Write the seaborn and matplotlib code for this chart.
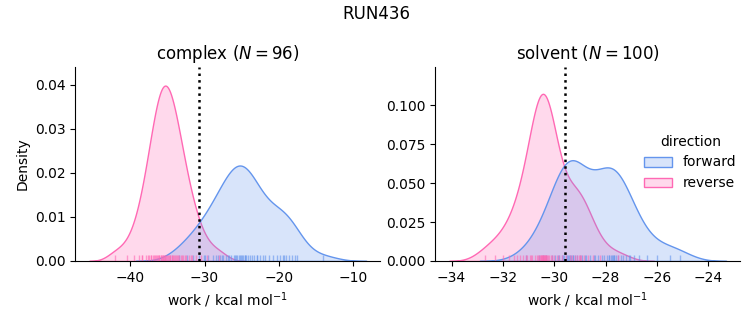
import numpy as np
import pandas as pd
import matplotlib
matplotlib.use("Agg")
import matplotlib.pyplot as plt
from matplotlib.ticker import MultipleLocator
import seaborn as sns

phases = ["complex", "solvent"]
sample_counts = [96, 100]
directions = ["forward", "reverse"]
colors = ["cornflowerblue", "hotpink"]

complex_forward = [-33.5, -32.3, -31.6, -30.8, -30.1, -29.9, -29.5, -28.9, -28.4, -28.2, -27.9, -27.5,
                   -27.1, -26.7, -26.4, -26.1, -25.8, -25.6, -25.4, -25.2, -25.0, -24.8, -24.6, -24.4,
                   -24.2, -23.9, -23.6, -23.3, -23.0, -22.6, -22.2, -21.8, -21.3, -20.8, -20.3, -19.9,
                   -19.5, -19.1, -18.7, -18.3, -17.8, -17.5, -27.7, -22.9, -14.0, -25.9, -25.1, -24.5,
                   -19.3, -26.9]
complex_reverse = [-38.38, -37.63, -37.22, -36.92, -36.67, -36.46, -36.26, -36.09, -35.92, -35.76, -35.60,
                   -35.45, -35.30, -35.13, -34.95, -34.77, -34.59, -34.39, -34.20, -33.97, -33.72, -33.44,
                   -33.09, -32.62, -31.76,
                   -41.98, -40.37, -39.50, -38.86, -38.35, -37.90, -37.50, -37.14, -36.80, -36.48, -36.16,
                   -35.86, -35.57, -35.29, -35.00, -34.71, -34.43, -34.14, -33.86, -33.52, -33.20, -32.86,
                   -32.50, -32.10, -31.65, -31.14, -30.50, -29.63, -28.02]
solvent_forward = [-31.1, -30.6, -30.3, -30.1, -29.95, -29.8, -29.7, -29.6, -29.5, -29.42, -29.35, -29.28,
                   -29.2, -29.1, -29.0, -28.9, -28.75, -28.6, -28.45, -28.3, -28.15, -28.05, -27.95, -27.88,
                   -27.8, -27.72, -27.65, -27.58, -27.5, -27.4, -27.3, -27.2, -27.05, -26.9, -26.7, -26.4,
                   -26.0, -25.5, -25.1, -29.45, -29.55, -29.25, -27.85, -27.75, -27.68, -28.8, -28.4,
                   -29.65, -27.1, -29.85, -30.45, -29.4]
solvent_reverse = [-32.7, -32.3, -32.0, -31.75, -31.55, -31.35, -31.2, -31.05, -30.95, -30.85, -30.75, -30.68,
                   -30.62, -30.56, -30.5, -30.46, -30.42, -30.38, -30.34, -30.3, -30.25, -30.2, -30.14,
                   -30.08, -30.0, -29.9, -29.8, -29.68, -29.55, -29.4, -29.2, -29.0, -28.85, -28.7, -28.5,
                   -30.33, -28.2, -27.5, -30.52, -30.44, -30.36, -30.28, -30.6, -30.9, -31.1, -29.1, -28.95,
                   -29.3, -30.4, -30.48, -31.45, -29.05]
free_energy = [-30.7, -29.57]

rows = []
for phase, fwd, rev in [("complex", complex_forward, complex_reverse),
                        ("solvent", solvent_forward, solvent_reverse)]:
    for v in fwd:
        rows.append((phase, "forward", v))
    for v in rev:
        rows.append((phase, "reverse", v))
df = pd.DataFrame(rows, columns=["phase", "direction", "work"])

g = sns.displot(data=df, x="work", hue="direction", col="phase", kind="kde", fill=True, rug=True,
                hue_order=directions, col_order=phases, palette=colors,
                rug_kws=dict(height=0.03, alpha=0.6),
                facet_kws=dict(sharex=False, sharey=False), height=3, aspect=1)
g.figure.set_size_inches(7.53, 3.25)
g.figure.subplots_adjust(left=0.1, right=0.983, top=0.794, bottom=0.197, wspace=0.18)

for ax, phase, n, fe in zip(g.axes.flat, phases, sample_counts, free_energy):
    ax.set_title(f"{phase} ($N = {n}$)", fontsize=12)
    ax.axvline(fe, color="k", ls=":", lw=1.8)
    ax.set_xlabel("work / kcal mol$^{-1}$")
g.axes.flat[0].set_ylabel("Density")
g.axes.flat[1].set_ylabel("")
g.axes.flat[0].yaxis.set_major_locator(MultipleLocator(0.01))
g.axes.flat[1].yaxis.set_major_locator(MultipleLocator(0.025))
g.axes.flat[0].set_ylim(0, 0.0441)
g.axes.flat[1].set_ylim(0, 0.1245)

sns.move_legend(g, "center right", bbox_to_anchor=(0.995, 0.5), frameon=False)
g.figure.suptitle("RUN436", fontsize=12, y=0.985)
g.figure.savefig("out.png", dpi=100)
